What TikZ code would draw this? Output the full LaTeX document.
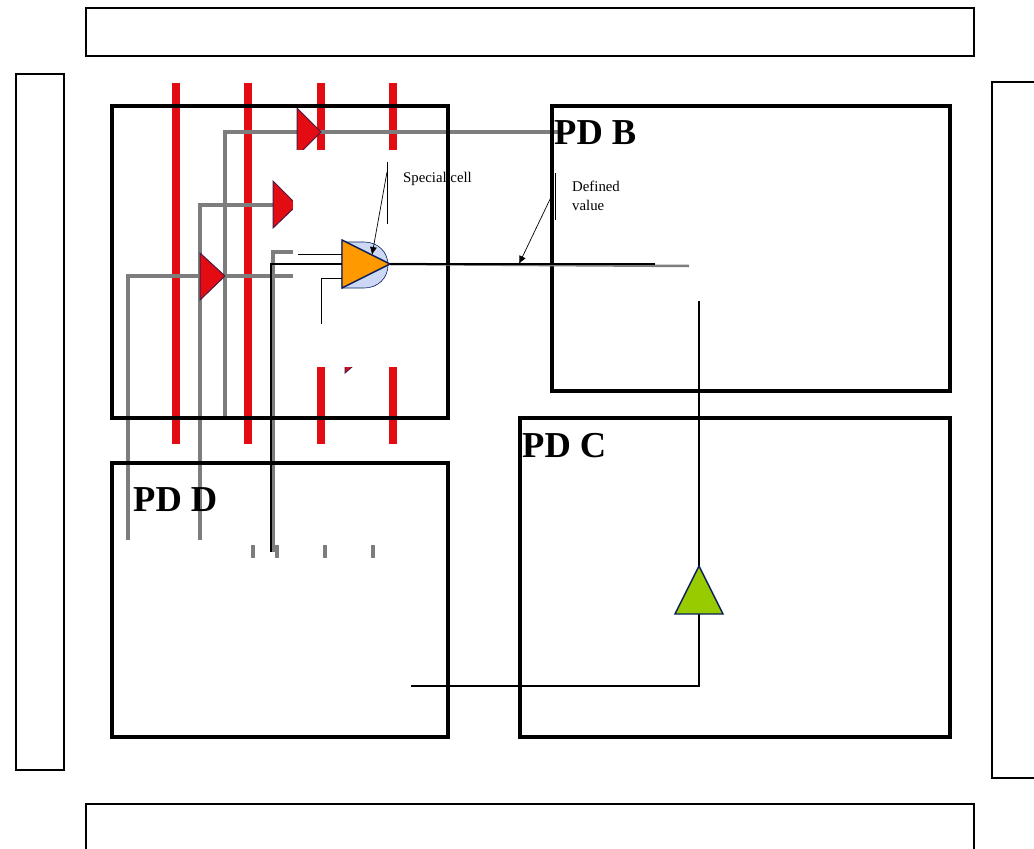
\documentclass[tikz,border=0pt]{standalone}
\usepackage{fontspec}
\setmainfont{Liberation Serif}
\usetikzlibrary{calc,positioning,arrows.meta}
\definecolor{railred}{RGB}{226,12,18}
\definecolor{wiregray}{RGB}{125,125,125}
\definecolor{cellnavy}{RGB}{10,30,95}
\definecolor{cellorange}{RGB}{255,153,0}
\definecolor{cellblue}{RGB}{204,216,245}
\definecolor{cellgreen}{RGB}{153,204,0}

\begin{document}
\begin{tikzpicture}[x=1pt,y=-1pt]

        % Setup the styles
        \tikzset{frame style/.style={draw=black, line width=3.5pt, inner sep=0pt, outer sep=0pt},
                 ring style/.style={draw=black, line width=1.6pt, inner sep=0pt, outer sep=0pt},
                 label style/.style={font=\bfseries\fontsize{36.5}{36}\selectfont, inner sep=0pt, anchor=base west},
                 note style/.style={font=\fontsize{14.8}{19}\selectfont, inner sep=0pt, anchor=base west},
                 rail style/.style={draw=railred, line width=8pt},
                 wire style/.style={draw=wiregray, line width=3.4pt},
                 tick style/.style={draw=wiregray, line width=3.4pt},
                 net style/.style={draw=black, line width=2pt},
                 buffer style/.style={draw=cellnavy!70!railred, line width=1pt, fill=railred}}

        \useasboundingbox (0,0) rectangle (1034,849);

        % Draw the red rails
        \foreach \xr in {176,248,321,393}
            \draw[rail style] (\xr,83) -- (\xr,444);

        % Draw the gray wires
        \coordinate (wireatop) at (560,132);
        \coordinate (wireaend) at (225,418);
        \coordinate (wirebtop) at (273,205);
        \coordinate (wirebend) at (200,540);
        \coordinate (wirectop) at (293,276);
        \coordinate (wirecend) at (128,540);
        \draw[wire style] (wireatop) -| (wireaend);
        \draw[wire style] (wirebtop) -| (wirebend);
        \draw[wire style] (wirectop) -| (wirecend);
        \draw[wire style] (293,252) -| (273,552);

        % Draw the red buffers
        \draw[buffer style] (297,108) -- (321,132) -- (297,156) -- cycle;
        \draw[buffer style] (273,181) -- (297,205) -- (273,228) -- cycle;
        \draw[buffer style] (200,253) -- (225,276) -- (200,300) -- cycle;
        \draw[buffer style] (345,360) -- (353,366) -- (345,373) -- cycle;

        % The white patch
        \fill[white] (293,150) rectangle (484,367);

        % Draw the frames
        \node[ring style, minimum width=888, minimum height=48]  at (530,32)  (topring)    {};
        \node[ring style, minimum width=888, minimum height=60]  at (530,834) (bottomring) {};
        \node[ring style, minimum width=48,  minimum height=696] at (40,422)  (leftring)   {};
        \node[ring style, minimum width=60,  minimum height=696] at (1022,430) (rightring) {};
        \node[frame style, minimum width=336, minimum height=312] at (280,262)   (pda) {};
        \node[frame style, minimum width=398, minimum height=285] at (751,248.5) (pdb) {};
        \node[frame style, minimum width=430, minimum height=319] at (735,577.5) (pdc) {};
        \node[frame style, minimum width=336, minimum height=274] at (280,600)   (pdd) {};

        % Draw the labels
        \node[label style] at (554,144) (pdblabel) {PD B};
        \node[label style] at (522,457) (pdclabel) {PD C};
        \node[label style] at (133,511) (pddlabel) {PD D};
        \node[note style] at (403,182) (speciallabel) {Special cell};
        \node[note style, align=left, anchor=north west] at (572,181) (definedlabel) {Defined\\value};

        % Draw the special cell
        \draw[draw=cellnavy, line width=0.6pt, fill=cellblue]
            (342,242) -- (364,242) .. controls (378,242) and (388,252) .. (388,265)
            .. controls (388,278) and (378,288) .. (364,288) -- (342,288) -- cycle;
        \draw[draw=cellnavy, line width=1.4pt, fill=cellorange]
            (342,240) -- (390,264) -- (342,288) -- cycle;
        \coordinate (cellin) at (342,264);
        \coordinate (cellout) at (390,264);

        % Draw the nets
        \draw[net style] (cellin) -- (271,264) -- (271,552);
        \draw[black, line width=0.8pt] (298,254) -- (342,254);
        \draw[black, line width=0.8pt] (342,278) -- (321,278) -- (321,324);
        \draw[wire style, line width=2.5pt] (cellout) -- (689,266);
        \draw[net style] (cellout) -- (655,264);

        % Draw the green buffer
        \coordinate (greentop) at (699,566);
        \coordinate (greenbase) at (699,614);
        \draw[net style] (699,301) -- (greentop);
        \draw[net style] (greenbase) -- (699,686) -- (411,686);
        \draw[draw=cellnavy, line width=1.4pt, fill=cellgreen]
            (675,614) -- (greentop) -- (723,614) -- cycle;

        % Draw the ticks
        \foreach \xt in {253,277,325,373}
            \draw[tick style] (\xt,545) -- (\xt,558);

        % Draw the callouts
        \draw[black, line width=0.7pt] (387,162) -- (387,224);
        \draw[-{Latex[length=8pt,width=7pt]}, line width=0.7pt] (387,172) -- (372,255);
        \draw[black, line width=0.7pt] (555,173) -- (555,220);
        \draw[-{Latex[length=8pt,width=7pt]}, line width=0.7pt] (553,193) -- (519,264);

\end{tikzpicture}
\end{document}
